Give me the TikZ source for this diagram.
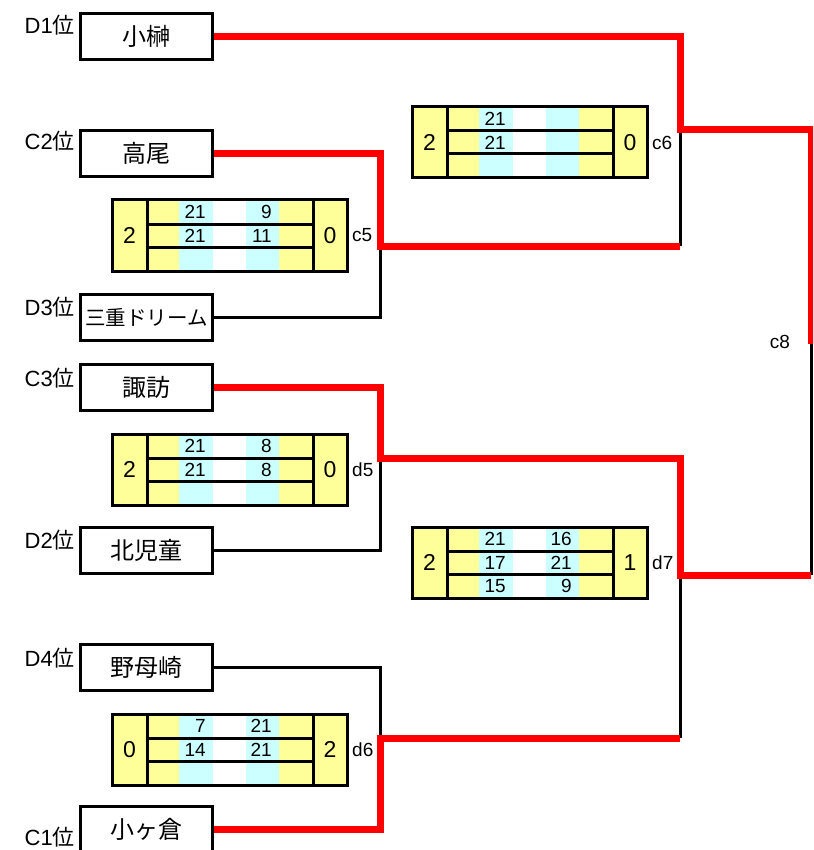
\documentclass[tikz,border=0pt]{standalone}
\usepackage{fontspec}
\setmainfont{Liberation Sans}
\newfontfamily\jp{Noto Sans CJK JP}
\usetikzlibrary{positioning}
\definecolor{cellyellow}{HTML}{FFFF99}
\definecolor{cellcyan}{HTML}{CCFFFF}
\tikzset{
    team/.style={draw, line width=3pt, minimum width=132pt, minimum height=46pt, inner sep=0pt, font=\jp\fontsize{24}{24}\selectfont},
    seed/.style={anchor=east, inner sep=0pt, font=\fontsize{22}{22}\selectfont},
    win/.style={draw=red, line width=7pt},
    lose/.style={draw=black, line width=3pt},
    boxline/.style={draw=black, line width=3pt},
    setnum/.style={inner sep=0pt, font=\fontsize{23}{23}\selectfont},
    gamenum/.style={anchor=east, inner sep=0pt, font=\fontsize{19}{19}\selectfont},
    matchlbl/.style={anchor=west, inner sep=0pt, font=\fontsize{19}{19}\selectfont}
}
% #1 match, #2 top left corner, #3 left sets, #4 right sets, #5 games
\newcommand{\scorebox}[5]{
    \begin{scope}[shift={(#2)}]
        \fill[cellyellow] (0,0) rectangle (235,71);
        \fill[cellcyan] (67,0) rectangle (101,71) (134,0) rectangle (167,71);
        \fill[white] (101,0) rectangle (134,71);
        \draw[boxline] (0,0) rectangle (235,71)
            (35,0) -- (35,71) (201,0) -- (201,71)
            (35,24) -- (201,24) (35,47) -- (201,47);
        \node[setnum] (#1-l) at (17.5,35.5) {#3};
        \node[setnum] (#1-r) at (218,35.5) {#4};
        \node[matchlbl] (#1) at (240,35.5) {#1};
        \foreach \a/\b [count=\i] in {#5} {
            \node[gamenum] (#1-\i a) at (94,{12+23.5*(\i-1)}) {\a};
            \node[gamenum] (#1-\i b) at (160,{12+23.5*(\i-1)}) {\b};
        }
    \end{scope}
}

\begin{document}
\begin{tikzpicture}[x=1pt, y=-1pt]
    \useasboundingbox (0,0) rectangle (813,850);
    \clip (0,0) rectangle (813,850);

    % teams
    \node[team] (kosakaki) at (146.5,36.5) {小榊};
    \node[team] (takao) at (146.5,153.5) {高尾};
    \node[team, font=\jp\fontsize{20.5}{20.5}\selectfont] (mie) at (146.5,317.5) {三重ドリーム};
    \node[team] (suwa) at (146.5,387.5) {諏訪};
    \node[team] (kitajido) at (146.5,550.5) {北児童};
    \node[team] (nomozaki) at (146.5,667.5) {野母崎};
    \node[team] (kogakura) at (146.5,829.5) {小ヶ倉};

    \node[seed] (d1) at (75,25) {D1{\jp 位}};
    \node[seed] (c2) at (75,141) {C2{\jp 位}};
    \node[seed] (d3) at (75,307) {D3{\jp 位}};
    \node[seed] (c3) at (75,378) {C3{\jp 位}};
    \node[seed] (d2) at (75,540) {D2{\jp 位}};
    \node[seed] (d4) at (75,658) {D4{\jp 位}};
    \node[seed] (c1) at (75,837) {C1{\jp 位}};

    % scores
    \scorebox{c6}{412,107}{2}{0}{21/,21/,/}
    \scorebox{c5}{112,200}{2}{0}{21/9,21/11,/}
    \scorebox{d5}{112,434}{2}{0}{21/8,21/8,/}
    \scorebox{d7}{412,527}{2}{1}{21/16,17/21,15/9}
    \scorebox{d6}{112,714}{0}{2}{7/21,14/21,/}
    \node[inner sep=0pt, font=\fontsize{19}{19}\selectfont] (c8) at (780,342) {c8};

    % junctions
    \coordinate (c5j) at (380,246);
    \coordinate (c6j) at (680,130);
    \coordinate (c6b) at (680,246);
    \coordinate (d5j) at (380,458);
    \coordinate (d7t) at (680,458);
    \coordinate (d7j) at (680,575);
    \coordinate (d6j) at (380,738);
    \coordinate (d7b) at (680,738);
    \coordinate (c8t) at (811,344);
    \coordinate (c8b) at (811,575);

    % losers
    \draw[lose] (mie.east) -| (c5j);
    \draw[lose] (kitajido.east) -| (d5j);
    \draw[lose] (nomozaki.east) -| (d6j);
    \draw[lose] (c6b) -- (c6j);
    \draw[lose] (d7j) -- (d7b);
    \draw[lose] (c8t) -- (c8b);

    % winners
    \draw[win] (kosakaki.east) -| (c6j) -| (c8t);
    \draw[win] (takao.east) -| (c5j) -- (c6b);
    \draw[win] (suwa.east) -| (d5j) -- (d7t) -- (d7j) -- (c8b);
    \draw[win] (kogakura.east) -| (d6j) -- (d7b);
\end{tikzpicture}
\end{document}
